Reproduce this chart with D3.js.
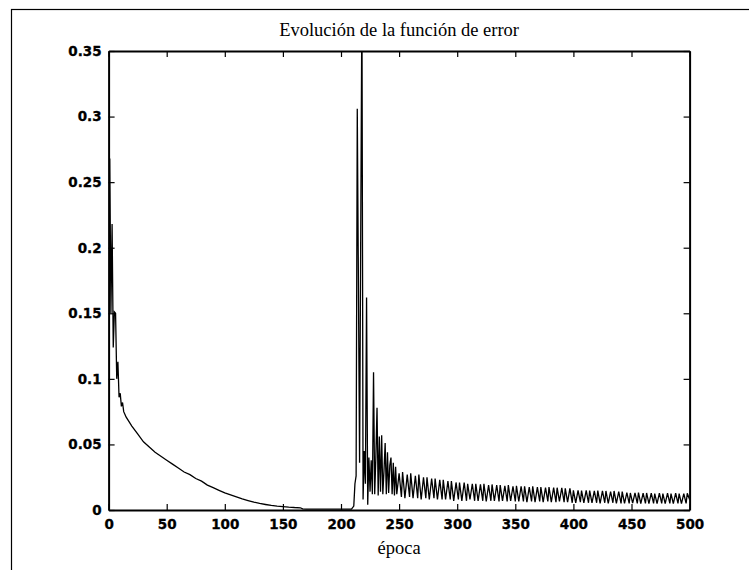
<!DOCTYPE html>
<html>
<head>
<meta charset="utf-8">
<script src="https://cdn.jsdelivr.net/npm/d3@7"></script>
<style>
  html, body { margin: 0; padding: 0; background: #fff; }
  svg { display: block; }
</style>
</head>
<body>
<svg id="chart" width="749" height="570"></svg>
<script>
// Training error per epoch
const warmupEpochs = [1, 2, 3, 4, 5, 6, 7, 8, 9, 10, 11, 12, 13, 14, 15];
const warmupError  = [0.268, 0.150, 0.218, 0.124, 0.151, 0.150, 0.100, 0.113, 0.086, 0.089, 0.079, 0.082, 0.075, 0.073, 0.071];

const decayEpochs = [20, 25, 30, 35, 40, 45, 50, 55, 60, 65, 70, 75, 80, 85, 90, 95, 100, 105, 110, 115, 120, 125, 130, 135, 140, 145, 150, 155, 160, 165, 167, 170, 180, 190, 200, 209];
const decayError  = [0.064, 0.058, 0.052, 0.048, 0.044, 0.041, 0.038, 0.035, 0.032, 0.029, 0.027, 0.024, 0.022, 0.019, 0.017, 0.015, 0.013, 0.0115, 0.010, 0.0085, 0.0072, 0.006, 0.005, 0.0042, 0.0035, 0.003, 0.0026, 0.0022, 0.0019, 0.0017, 0.0008, 0.0007, 0.0007, 0.0007, 0.0007, 0.0007];

const burstEpochs = [211, 212, 213, 214, 216, 218, 219, 220, 221, 222, 223, 224, 225, 226, 227, 228, 229, 230, 231, 232, 233, 234, 235, 236, 237, 238, 239, 240, 241, 242, 243, 244, 245, 246, 247, 248];
const burstError  = [0.003, 0.020, 0.026, 0.306, 0.036, 0.392, 0.008, 0.045, 0.020, 0.162, 0.004, 0.040, 0.014, 0.038, 0.012, 0.105, 0.012, 0.040, 0.078, 0.011, 0.056, 0.014, 0.057, 0.012, 0.030, 0.051, 0.012, 0.044, 0.013, 0.034, 0.040, 0.012, 0.036, 0.011, 0.033, 0.012];

const tailEpochs = [
  250, 252, 253, 255, 257, 259, 260, 262, 264, 266, 267, 269, 271, 273, 274, 276, 278, 280, 281, 283,
  285, 287, 288, 290, 292, 294, 295, 297, 299, 301, 302, 304, 306, 308, 309, 311, 313, 315, 316, 318,
  320, 322, 323, 325, 327, 329, 330, 332, 334, 336, 337, 339, 341, 343, 344, 346, 348, 350, 351, 353,
  355, 357, 358, 360, 362, 364, 365, 367, 369, 371, 372, 374, 376, 378, 379, 381, 383, 385, 386, 388,
  390, 392, 393, 395, 397, 399, 400, 402, 404, 406, 407, 409, 411, 413, 414, 416, 418, 420, 421, 423,
  425, 427, 428, 430, 432, 434, 435, 437, 439, 441, 442, 444, 446, 448, 449, 451, 453, 455, 456, 458,
  460, 462, 463, 465, 467, 469, 470, 472, 474, 476, 477, 479, 481, 483, 484, 486, 488, 490, 491, 493,
  495, 497, 498, 500
];
const tailError = [
  0.028, 0.010, 0.029, 0.009, 0.027, 0.010, 0.028, 0.009, 0.026, 0.009, 0.027, 0.008, 0.025, 0.009, 0.025, 0.008, 0.024, 0.009, 0.024, 0.008,
  0.023, 0.008, 0.023, 0.008, 0.022, 0.008, 0.022, 0.007, 0.021, 0.008, 0.021, 0.007, 0.021, 0.007, 0.020, 0.008, 0.020, 0.007, 0.020, 0.007,
  0.0195, 0.007, 0.020, 0.0065, 0.019, 0.007, 0.0195, 0.007, 0.019, 0.0065, 0.019, 0.007, 0.0185, 0.0065, 0.019, 0.007, 0.018, 0.0065, 0.0185, 0.0065,
  0.018, 0.0065, 0.018, 0.006, 0.0175, 0.0065, 0.018, 0.006, 0.0175, 0.0065, 0.0175, 0.006, 0.017, 0.0065, 0.0175, 0.006, 0.017, 0.006, 0.017, 0.0065,
  0.0168, 0.006, 0.0165, 0.006, 0.0165, 0.0055, 0.015, 0.0055, 0.015, 0.006, 0.0148, 0.0055, 0.015, 0.0055, 0.0148, 0.0055, 0.0145, 0.0055, 0.0148, 0.005,
  0.0145, 0.0055, 0.0145, 0.005, 0.014, 0.0055, 0.0145, 0.005, 0.014, 0.005, 0.014, 0.005, 0.0132, 0.005, 0.013, 0.0052, 0.013, 0.005, 0.0132, 0.0048,
  0.0128, 0.005, 0.013, 0.0048, 0.0128, 0.005, 0.0125, 0.0048, 0.0128, 0.005, 0.0125, 0.0048, 0.0128, 0.005, 0.0125, 0.0048, 0.0128, 0.005, 0.0125, 0.0048,
  0.0125, 0.005, 0.0128, 0.008
];

const xTicks = [0, 50, 100, 150, 200, 250, 300, 350, 400, 450, 500];
const yTicks = [0, 0.05, 0.1, 0.15, 0.2, 0.25, 0.3, 0.35];

const titleText = "Evolución de la función de error";
const xLabelText = "época";

// Assemble the series
const epochs = [].concat(warmupEpochs, decayEpochs, burstEpochs, tailEpochs);
const errors = [].concat(warmupError, decayError, burstError, tailError);
const series = epochs.map((e, i) => ({ epoch: e, error: errors[i] }));

const svg = d3.select("#chart");
const plot = { left: 108.6, right: 689.6, top: 51, bottom: 510 };

const x = d3.scaleLinear().domain([0, 500]).range([plot.left, plot.right]);
const y = d3.scaleLinear().domain([0, 0.35]).range([plot.bottom, plot.top]);

// Outer figure border
svg.append("rect")
  .attr("x", 11.5).attr("y", 9.5)
  .attr("width", 800).attr("height", 600)
  .attr("fill", "none").attr("stroke", "#000").attr("stroke-width", 1.2);

// Title and axis label
const serif = "'Liberation Serif', 'DejaVu Serif', serif";
svg.append("text")
  .attr("x", (plot.left + plot.right) / 2).attr("y", 36)
  .attr("text-anchor", "middle")
  .attr("font-family", serif)
  .attr("font-size", 18.5)
  .text(titleText);

svg.append("text")
  .attr("x", (plot.left + plot.right) / 2).attr("y", 554)
  .attr("text-anchor", "middle")
  .attr("font-family", serif)
  .attr("font-size", 18.5)
  .text(xLabelText);

// Data line, clipped to the plot box
svg.append("clipPath").attr("id", "plot-clip")
  .append("rect")
  .attr("x", plot.left).attr("y", plot.top)
  .attr("width", plot.right - plot.left).attr("height", plot.bottom - plot.top);

const line = d3.line().x(d => x(d.epoch)).y(d => y(d.error));

svg.append("path")
  .datum(series)
  .attr("clip-path", "url(#plot-clip)")
  .attr("fill", "none")
  .attr("stroke", "#000")
  .attr("stroke-width", 1.3)
  .attr("d", line);

// Axes with inward ticks on all four sides
const tickFont = "'DejaVu Sans', 'Liberation Sans', sans-serif";
function styleAxis(g) {
  g.select(".domain").attr("stroke-width", 2).attr("stroke", "#000");
  g.selectAll(".tick line").attr("stroke", "#000").attr("stroke-width", 1.2);
  g.selectAll(".tick text")
    .attr("font-family", tickFont)
    .attr("font-weight", "bold")
    .attr("font-size", 13.5)
    .attr("fill", "#000")
    .attr("stroke", "#000")
    .attr("stroke-width", 0.3);
}

svg.append("g")
  .attr("transform", `translate(0,${plot.bottom})`)
  .call(d3.axisBottom(x).tickValues(xTicks).tickSize(-6).tickSizeOuter(0).tickPadding(9).tickFormat(d3.format("d")))
  .call(styleAxis);

svg.append("g")
  .attr("transform", `translate(${plot.left},0)`)
  .call(d3.axisLeft(y).tickValues(yTicks).tickSize(-6).tickSizeOuter(0).tickPadding(7).tickFormat(d3.format("~g")))
  .call(styleAxis);

svg.append("g")
  .attr("transform", `translate(0,${plot.top})`)
  .call(d3.axisTop(x).tickValues(xTicks).tickSize(-6).tickSizeOuter(0).tickFormat(""))
  .call(styleAxis);

svg.append("g")
  .attr("transform", `translate(${plot.right},0)`)
  .call(d3.axisRight(y).tickValues(yTicks).tickSize(-6).tickSizeOuter(0).tickFormat(""))
  .call(styleAxis);
</script>
</body>
</html>
